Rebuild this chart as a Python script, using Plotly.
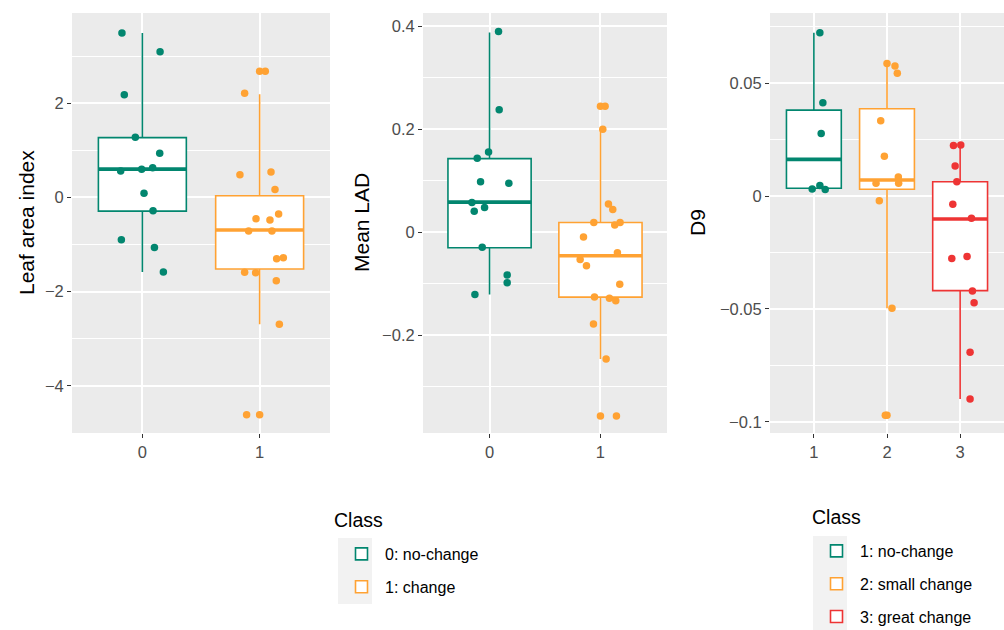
import plotly.graph_objects as go

# ---- colours per class ----
TEAL = "#02866F"
ORANGE = "#FFA233"
RED = "#EE3434"

# ---- Leaf area index (two classes) ----
lai_y0 = [3.49, 3.09, 2.18, 1.28, 0.94, 0.56, 0.60, 0.63, 0.09, -0.28, -0.90, -1.06, -1.58]
lai_j0 = [-0.174, 0.151, -0.154, -0.060, 0.148, -0.185, -0.006, 0.088, 0.014, 0.091, -0.179, 0.103, 0.179]
lai_y1 = [2.68, 2.21, 0.48, 0.54, 0.17, -0.45, -0.48, -0.35, -0.71, -0.71, -1.30, -1.28,
          -1.59, -1.60, -1.77, -2.69, -4.61]
lai_j1 = [0.048, -0.128, -0.168, 0.097, 0.131, -0.031, 0.088, 0.162, -0.094, 0.105, 0.145, 0.202,
          -0.128, -0.034, 0.142, 0.168, -0.111]
lai_out = [[], [2.68, -4.61]]
lai_q1 = [-0.29, -1.52]
lai_med = [0.60, -0.69]
lai_q3 = [1.27, 0.035]
lai_lo = [-1.58, -2.69]
lai_hi = [3.49, 2.19]

# ---- Mean LAD (two classes) ----
lad_y0 = [0.390, 0.238, 0.156, 0.144, 0.098, 0.095, 0.058, 0.041, 0.048, -0.029, -0.083, -0.098, -0.121]
lad_j0 = [0.081, 0.087, -0.009, -0.111, -0.081, 0.174, -0.159, -0.138, -0.045, -0.066, 0.159, 0.159, -0.132]
lad_y1 = [0.245, 0.200, 0.055, 0.044, 0.019, 0.014, 0.019, -0.009, -0.053, -0.065, -0.040, -0.101,
          -0.126, -0.128, -0.133, -0.178, -0.246, -0.357]
lad_j1 = [0.042, 0.021, 0.072, 0.111, -0.060, 0.129, 0.177, -0.153, -0.183, -0.126, 0.153, 0.174,
          -0.054, 0.081, 0.138, -0.063, 0.051, 0.144]
lad_out = [[], [0.245, -0.357]]
lad_q1 = [-0.030, -0.126]
lad_med = [0.0586, -0.0455]
lad_q3 = [0.143, 0.019]
lad_lo = [-0.121, -0.246]
lad_hi = [0.388, 0.200]

# ---- D9 (three classes) ----
d9_y1 = [0.0723, 0.0413, 0.0277, 0.0031, 0.0047, 0.0029]
d9_j1 = [0.082, 0.123, 0.100, -0.023, 0.082, 0.155]
d9_y2 = [0.0587, 0.0575, 0.0543, 0.0333, 0.0176, 0.0084, 0.0056, 0.0056, -0.0021, -0.0497, -0.097]
d9_j2 = [0.0, 0.109, 0.141, -0.086, -0.036, 0.155, 0.159, -0.150, -0.105, 0.068, -0.023]
d9_y3 = [0.0223, 0.0226, 0.0133, 0.0063, -0.0037, -0.0099, -0.0277, -0.0268, -0.0420, -0.0472,
         -0.0692, -0.0898]
d9_j3 = [-0.091, 0.009, -0.068, -0.045, -0.100, 0.155, -0.114, 0.095, 0.168, 0.191, 0.136, 0.136]
d9_out = [[], [-0.097], []]
d9_q1 = [0.0034, 0.0030, -0.0419]
d9_med = [0.0162, 0.0071, -0.0102]
d9_q3 = [0.038, 0.0386, 0.0063]
d9_lo = [0.0029, -0.0497, -0.0898]
d9_hi = [0.0723, 0.0587, 0.0226]

two_class_names = ["0: no-change", "1: change"]
three_class_names = ["1: no-change", "2: small change", "3: great change"]

FONT = "Liberation Sans, Arial, sans-serif"
BOX_W = 0.75

fig = go.Figure()


def add_panel(xref, yref, positions, colors, names, q1, med, q3, lo, hi, outs, ys, jits, legend):
    for i, pos in enumerate(positions):
        c = colors[i]
        show = legend is not None
        fig.add_trace(go.Box(
            x=[pos], q1=[q1[i]], median=[med[i]], q3=[q3[i]],
            lowerfence=[lo[i]], upperfence=[hi[i]],
            boxpoints=False, width=BOX_W, whiskerwidth=0,
            fillcolor="white", line=dict(color=c, width=1.6),
            name=names[i], showlegend=show, legend=legend if show else None,
            legendgroup=(legend or "x") + str(i),
            xaxis=xref, yaxis=yref, hoverinfo="skip",
        ))
        # thicker median bar
        fig.add_trace(go.Scatter(
            x=[pos - BOX_W / 2, pos + BOX_W / 2], y=[med[i], med[i]], mode="lines",
            line=dict(color=c, width=3.6), showlegend=False, xaxis=xref, yaxis=yref,
            hoverinfo="skip",
        ))
        if outs[i]:
            fig.add_trace(go.Scatter(
                x=[pos] * len(outs[i]), y=outs[i], mode="markers",
                marker=dict(color=c, size=7.5), showlegend=False,
                xaxis=xref, yaxis=yref, hoverinfo="skip",
            ))
        fig.add_trace(go.Scatter(
            x=[pos + j for j in jits[i]], y=ys[i], mode="markers",
            marker=dict(color=c, size=7.5), showlegend=False,
            xaxis=xref, yaxis=yref, hoverinfo="skip",
        ))


add_panel("x", "y", [0, 1], [TEAL, ORANGE], two_class_names,
          lai_q1, lai_med, lai_q3, lai_lo, lai_hi, lai_out,
          [lai_y0, lai_y1], [lai_j0, lai_j1], "legend")
add_panel("x2", "y2", [0, 1], [TEAL, ORANGE], two_class_names,
          lad_q1, lad_med, lad_q3, lad_lo, lad_hi, lad_out,
          [lad_y0, lad_y1], [lad_j0, lad_j1], None)
add_panel("x3", "y3", [1, 2, 3], [TEAL, ORANGE, RED], three_class_names,
          d9_q1, d9_med, d9_q3, d9_lo, d9_hi, d9_out,
          [d9_y1, d9_y2, d9_y3], [d9_j1, d9_j2, d9_j3], "legend2")

W, H = 1004, 630
top = 1 - 13 / H
bot = 1 - 433 / H

tickfont = dict(family=FONT, size=16.5, color="#4D4D4D")
common = dict(showgrid=True, gridcolor="white", gridwidth=1.6, zeroline=False,
              ticks="outside", ticklen=4, tickwidth=1.2, tickcolor="#333333",
              tickfont=tickfont, showline=False, fixedrange=True)
minor_grid = dict(showgrid=True, gridcolor="white", gridwidth=0.8, ticks="")

legend_font = dict(family=FONT, size=16, color="black")

fig.update_layout(
    width=W, height=H, margin=dict(l=0, r=0, t=0, b=0, autoexpand=False),
    paper_bgcolor="white", plot_bgcolor="#EBEBEB",
    font=dict(family=FONT, color="black"),
    xaxis=dict(domain=[72 / W, 330 / W], anchor="y", range=[-0.6, 1.6],
               tickvals=[0, 1], ticktext=["0", "1"], **common),
    yaxis=dict(domain=[bot, top], anchor="x", range=[-5.0, 3.915],
               tickvals=[-4, -2, 0, 2], ticktext=["\u22124", "\u22122", "0", "2"],
               minor=dict(tickvals=[-5, -3, -1, 1, 3], **minor_grid), **common),
    xaxis2=dict(domain=[423 / W, 667 / W], anchor="y2", range=[-0.6, 1.6],
                tickvals=[0, 1], ticktext=["0", "1"], **common),
    yaxis2=dict(domain=[bot, top], anchor="x2", range=[-0.390, 0.426],
                tickvals=[-0.2, 0, 0.2, 0.4], ticktext=["\u22120.2", "0", "0.2", "0.4"],
                minor=dict(tickvals=[-0.3, -0.1, 0.1, 0.3], **minor_grid), **common),
    xaxis3=dict(domain=[770 / W, 1.0], anchor="y3", range=[0.4, 3.6],
                tickvals=[1, 2, 3], ticktext=["1", "2", "3"], **common),
    yaxis3=dict(domain=[bot, top], anchor="x3", range=[-0.1049, 0.081],
                tickvals=[-0.1, -0.05, 0, 0.05], ticktext=["\u22120.1", "\u22120.05", "0", "0.05"],
                minor=dict(tickvals=[-0.075, -0.025, 0.025, 0.075], **minor_grid), **common),
    legend=dict(x=338 / W, y=1 - 537 / H, xanchor="left", yanchor="top",
                font=legend_font, bgcolor="rgba(0,0,0,0)", tracegroupgap=9, itemwidth=37),
    legend2=dict(x=813 / W, y=1 - 534 / H, xanchor="left", yanchor="top",
                 font=legend_font, bgcolor="rgba(0,0,0,0)", tracegroupgap=9, itemwidth=37),
)

# grey strips behind the legend keys
fig.add_shape(type="rect", xref="paper", yref="paper", x0=338 / W, x1=372 / W,
              y0=1 - 604 / H, y1=1 - 538 / H, fillcolor="#F2F2F2", line_width=0, layer="below")
fig.add_shape(type="rect", xref="paper", yref="paper", x0=813 / W, x1=847 / W,
              y0=0, y1=1 - 536 / H, fillcolor="#F2F2F2", line_width=0, layer="below")

# legend titles
for xpx, ypx in [(332, 520), (810, 517)]:
    fig.add_annotation(text="Class", x=xpx / W, y=1 - ypx / H, xref="paper", yref="paper",
                       showarrow=False, xanchor="left", yanchor="middle",
                       font=dict(family=FONT, size=19.5, color="black"))

# axis titles
for text, xpx in [("Leaf area index", 26), ("Mean LAD", 361), ("D9", 697)]:
    fig.add_annotation(text=text, x=xpx / W, y=(top + bot) / 2, xref="paper", yref="paper",
                       textangle=-90, showarrow=False, xanchor="center", yanchor="middle",
                       font=dict(family=FONT, size=21, color="black"))

fig.write_html("out.html")
